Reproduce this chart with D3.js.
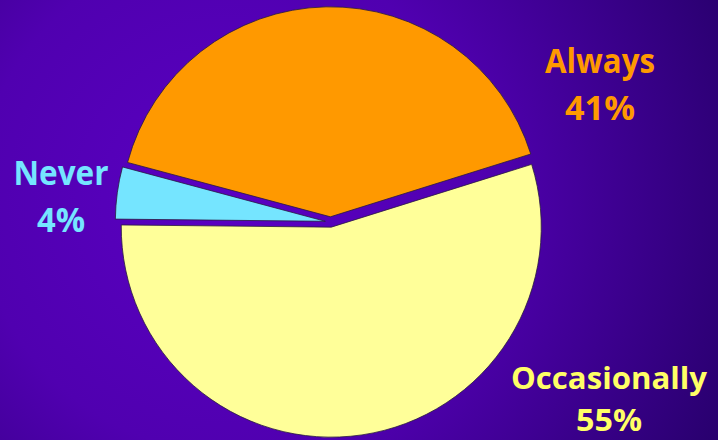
<!DOCTYPE html>
<html><head><meta charset="utf-8">
<script src="https://cdn.jsdelivr.net/npm/d3@7"></script>
<style>html,body{margin:0;padding:0;background:#3a0090;overflow:hidden}</style>
</head><body>
<svg id="chart" width="718" height="440"></svg>
<script>
const categories = ["Always", "Occasionally", "Never"];
const values = [41, 55, 4];
const percentLabels = ["41%", "55%", "4%"];
const colors = ["#FF9900", "#FFFF99", "#75E5FF"];
const textColors = ["#FF9900", "#FFFF66", "#75E5FF"];

const W = 718, H = 440;
const svg = d3.select("#chart");
const defs = svg.append("defs");
const grad = defs.append("radialGradient").attr("id", "bg")
  .attr("gradientUnits", "userSpaceOnUse")
  .attr("cx", 230).attr("cy", 200).attr("r", 560);
grad.append("stop").attr("offset", "0").attr("stop-color", "#5A00C2");
grad.append("stop").attr("offset", "0.45").attr("stop-color", "#5000B0");
grad.append("stop").attr("offset", "1").attr("stop-color", "#26006A");
svg.append("rect").attr("width", W).attr("height", H).attr("fill", "url(#bg)");

const cx = 330.5, cy = 222, R = 210, explode = 5.2;
const pie = d3.pie().sort(null)
  .startAngle(-75 * Math.PI / 180)
  .endAngle(285 * Math.PI / 180);
const arcs = pie(values);
const arc = d3.arc().innerRadius(0).outerRadius(R);

const g = svg.append("g").attr("transform", `translate(${cx},${cy})`);
g.selectAll("path").data(arcs).join("path")
  .attr("d", arc)
  .attr("fill", (d, i) => colors[i])
  .attr("stroke", "#2a1a40")
  .attr("stroke-width", 0.8)
  .attr("transform", d => {
    const a = (d.startAngle + d.endAngle) / 2;
    return `translate(${explode * Math.sin(a)},${-explode * Math.cos(a)})`;
  });

const labelPos = [
  {x: 600, y1: 73, y2: 120, w1: 110, w2: 70, fs: 34},
  {x: 609, y1: 389, y2: 431, w1: 196, w2: 66, fs: 30},
  {x: 61, y1: 185, y2: 232, w1: 95, w2: 48, fs: 34}
];
const font = "'Comic Sans MS', 'Open Sans', 'DejaVu Sans', sans-serif";
categories.forEach((c, i) => {
  const p = labelPos[i];
  const t = svg.append("g")
    .attr("fill", textColors[i])
    .attr("font-family", font)
    .attr("font-weight", "bold")
    .attr("font-size", p.fs)
    .attr("text-anchor", "middle");
  t.append("text").attr("x", p.x).attr("y", p.y1)
    .attr("textLength", p.w1).attr("lengthAdjust", "spacingAndGlyphs").text(c);
  t.append("text").attr("x", p.x).attr("y", p.y2)
    .attr("textLength", p.w2).attr("lengthAdjust", "spacingAndGlyphs").text(percentLabels[i]);
});
</script>
</body></html>
